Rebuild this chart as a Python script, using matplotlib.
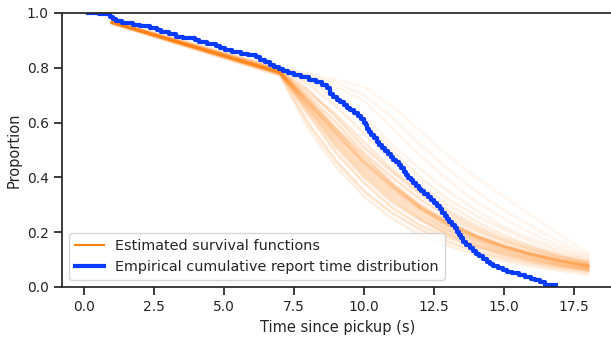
#!/usr/bin/env python3
"""
Survival functions estimated vs. empirical report-time distribution
"""

import matplotlib
matplotlib.use('Agg')
import matplotlib.pyplot as plt

# Knot times (s) at which each estimated survival curve was read off
KNOT_TIMES = [1, 7, 8, 9, 10, 11, 12, 13, 14, 15, 16, 17, 18]

# Estimated survival curves (one row per posterior draw)
SURVIVAL_CURVES = [
    [0.962, 0.775, 0.60, 0.46, 0.35, 0.27, 0.21, 0.165, 0.13, 0.105, 0.085, 0.068, 0.055],
    [0.963, 0.778, 0.63, 0.49, 0.38, 0.29, 0.225, 0.18, 0.145, 0.115, 0.092, 0.075, 0.060],
    [0.964, 0.780, 0.65, 0.52, 0.41, 0.32, 0.25, 0.195, 0.155, 0.125, 0.100, 0.080, 0.065],
    [0.965, 0.780, 0.66, 0.54, 0.43, 0.34, 0.27, 0.21, 0.17, 0.135, 0.110, 0.088, 0.070],
    [0.965, 0.782, 0.67, 0.55, 0.44, 0.35, 0.28, 0.22, 0.175, 0.140, 0.113, 0.090, 0.073],
    [0.966, 0.784, 0.68, 0.57, 0.46, 0.37, 0.29, 0.23, 0.185, 0.148, 0.120, 0.097, 0.078],
    [0.966, 0.785, 0.69, 0.58, 0.48, 0.38, 0.30, 0.24, 0.19, 0.153, 0.123, 0.100, 0.080],
    [0.967, 0.787, 0.70, 0.60, 0.49, 0.40, 0.32, 0.255, 0.205, 0.165, 0.132, 0.107, 0.086],
    [0.968, 0.790, 0.72, 0.62, 0.51, 0.42, 0.34, 0.27, 0.215, 0.172, 0.138, 0.110, 0.089],
    [0.967, 0.786, 0.67, 0.56, 0.45, 0.36, 0.285, 0.225, 0.18, 0.145, 0.117, 0.094, 0.076],
    [0.964, 0.779, 0.64, 0.51, 0.40, 0.31, 0.245, 0.19, 0.15, 0.120, 0.097, 0.078, 0.063],
    [0.966, 0.783, 0.675, 0.56, 0.455, 0.365, 0.29, 0.23, 0.183, 0.146, 0.118, 0.095, 0.077],
    [0.965, 0.781, 0.655, 0.53, 0.42, 0.33, 0.26, 0.205, 0.163, 0.130, 0.105, 0.084, 0.068],
    [0.966, 0.783, 0.685, 0.575, 0.47, 0.375, 0.295, 0.235, 0.187, 0.150, 0.121, 0.098, 0.079],
    [0.968, 0.792, 0.74, 0.66, 0.56, 0.46, 0.37, 0.30, 0.24, 0.19, 0.150, 0.120, 0.095],
    [0.969, 0.795, 0.76, 0.70, 0.62, 0.52, 0.43, 0.35, 0.28, 0.22, 0.175, 0.140, 0.105],
    [0.970, 0.797, 0.77, 0.73, 0.68, 0.58, 0.48, 0.39, 0.31, 0.25, 0.195, 0.150, 0.112],
    [0.970, 0.800, 0.78, 0.755, 0.73, 0.66, 0.57, 0.48, 0.40, 0.33, 0.26, 0.190, 0.125],
    [0.960, 0.770, 0.58, 0.44, 0.33, 0.25, 0.19, 0.15, 0.12, 0.095, 0.075, 0.060, 0.045],
    [0.969, 0.794, 0.75, 0.69, 0.60, 0.50, 0.40, 0.32, 0.26, 0.21, 0.165, 0.130, 0.100],
    [0.970, 0.798, 0.775, 0.745, 0.70, 0.62, 0.52, 0.43, 0.35, 0.28, 0.22, 0.165, 0.118],
    [0.966, 0.785, 0.71, 0.63, 0.53, 0.43, 0.35, 0.28, 0.225, 0.18, 0.145, 0.115, 0.090],
]
# how faint each draw looks (rarer draws are paler)
CURVE_ALPHAS = [0.2] * 14 + [0.12, 0.08, 0.07, 0.06, 0.12, 0.1, 0.07, 0.15]

# Empirical cumulative report time distribution (step function, post)
EMP_TIMES = [0.14, 0.55, 0.93, 1.03, 1.15, 1.35, 1.75, 2.0, 2.36, 2.6, 2.75, 3.05,
             3.3, 3.55, 3.95, 4.1, 4.4, 4.7, 4.85, 5.05, 5.3, 5.6, 5.85, 6.15,
             6.3, 6.45, 6.65, 6.8, 6.95, 7.1, 7.3, 7.5, 7.75, 8.05, 8.3, 8.5,
             8.68, 8.8, 8.9, 9.05, 9.15, 9.28, 9.4, 9.5, 9.65, 9.78, 9.9, 10.0,
             10.06, 10.12, 10.18, 10.25, 10.35, 10.45, 10.55, 10.65, 10.75, 10.85, 10.95, 11.05,
             11.15, 11.25, 11.33, 11.42, 11.5, 11.58, 11.66, 11.75, 11.85, 11.95, 12.05, 12.15,
             12.3, 12.4, 12.5, 12.6, 12.7, 12.8, 12.88, 12.95, 13.05, 13.15, 13.25, 13.32,
             13.4, 13.47, 13.55, 13.65, 13.8, 13.9, 14.0, 14.12, 14.25, 14.38, 14.5, 14.62,
             14.78, 14.95, 15.1, 15.3, 15.55, 15.75, 15.95, 16.1, 16.3, 16.45, 16.85]
EMP_VALUES = [1.0, 0.995, 0.987, 0.979, 0.972, 0.965, 0.958, 0.952, 0.945, 0.937, 0.930, 0.922,
              0.914, 0.908, 0.901, 0.894, 0.887, 0.880, 0.872, 0.864, 0.857, 0.851, 0.845, 0.838,
              0.830, 0.821, 0.812, 0.804, 0.796, 0.787, 0.780, 0.773, 0.765, 0.757, 0.748, 0.738,
              0.728, 0.705, 0.693, 0.684, 0.675, 0.665, 0.655, 0.645, 0.634, 0.623, 0.612, 0.600,
              0.590, 0.578, 0.566, 0.553, 0.543, 0.531, 0.519, 0.509, 0.498, 0.487, 0.475, 0.465,
              0.455, 0.444, 0.433, 0.421, 0.410, 0.399, 0.389, 0.379, 0.369, 0.359, 0.349, 0.339,
              0.328, 0.317, 0.306, 0.295, 0.283, 0.271, 0.259, 0.248, 0.237, 0.226, 0.214, 0.202,
              0.190, 0.178, 0.166, 0.155, 0.144, 0.133, 0.122, 0.112, 0.101, 0.092, 0.083, 0.075,
              0.068, 0.061, 0.055, 0.050, 0.045, 0.038, 0.031, 0.024, 0.017, 0.008, 0.008]

ORANGE = '#ff7f0e'
BLUE = '#0a3cff'

plt.rcParams.update({
    'font.family': 'DejaVu Sans',
    'text.color': '.15',
    'axes.labelcolor': '.15',
    'axes.edgecolor': '.15',
    'axes.linewidth': 1.25,
    'xtick.color': '.15',
    'ytick.color': '.15',
    'xtick.major.size': 6,
    'ytick.major.size': 6,
    'xtick.major.width': 1.25,
    'ytick.major.width': 1.25,
    'xtick.labelsize': 10,
    'ytick.labelsize': 10,
    'axes.labelsize': 10.5,
    'legend.fontsize': 10.4,
})

fig = plt.figure(figsize=(6.11, 3.38), dpi=100)
ax = fig.add_axes([62 / 611, 51 / 338, 551 / 611, 274 / 338])

for curve, a in zip(SURVIVAL_CURVES, CURVE_ALPHAS):
    ax.plot(KNOT_TIMES, curve, color=ORANGE, alpha=a, linewidth=2)

ax.step(EMP_TIMES, EMP_VALUES, where='post', color=BLUE, linewidth=3)

# Legend handles
ax.plot([], [], color=ORANGE, linewidth=1.5, label='Estimated survival functions')
ax.plot([], [], color=BLUE, linewidth=3, label='Empirical cumulative report time distribution')
ax.legend(loc='lower left')

ax.set_xlim(-0.786, 18.89)
ax.set_ylim(0, 1)
ax.set_xticks([0, 2.5, 5, 7.5, 10, 12.5, 15, 17.5])
ax.set_xticklabels(['0.0', '2.5', '5.0', '7.5', '10.0', '12.5', '15.0', '17.5'])
ax.set_yticks([0, 0.2, 0.4, 0.6, 0.8, 1.0])
ax.set_xlabel('Time since pickup (s)')
ax.set_ylabel('Proportion')

fig.savefig('out.png', dpi=100)
